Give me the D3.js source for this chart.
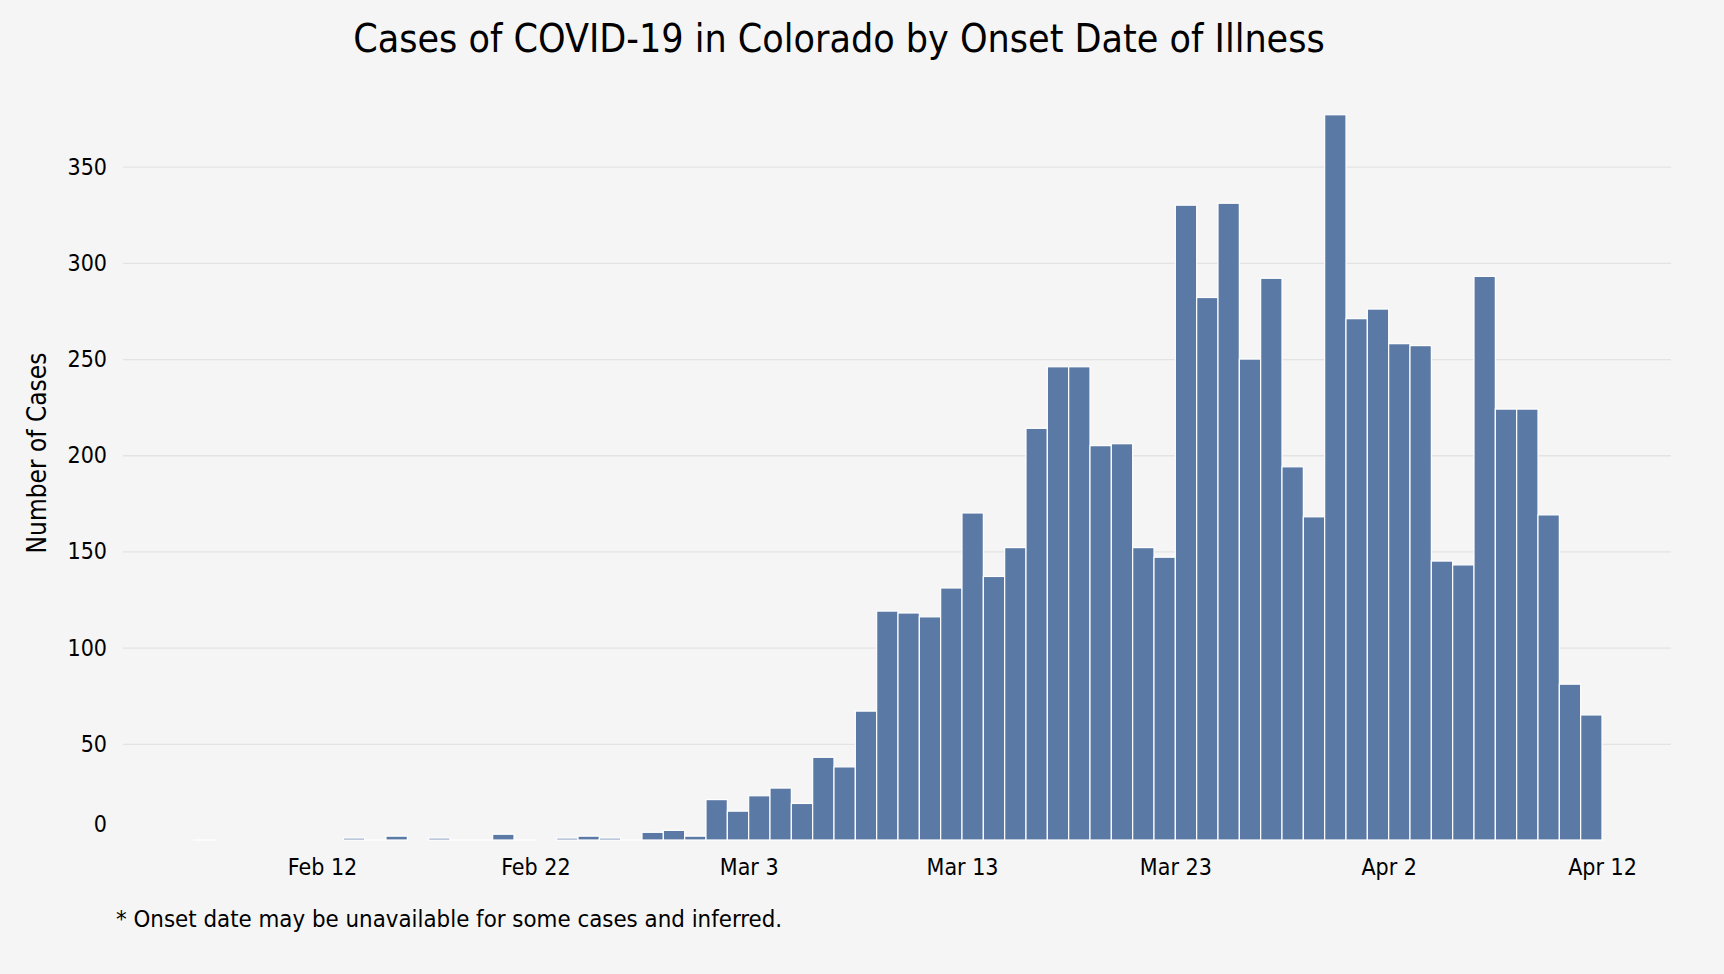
<!DOCTYPE html>
<html>
<head>
<meta charset="utf-8">
<script src="https://cdn.jsdelivr.net/npm/d3@7"></script>
<style>
    html, body { margin: 0; padding: 0; background: #f5f5f5; }
    svg { display: block; }
    svg text { font-family: "DejaVu Sans Condensed", "DejaVu Sans", sans-serif; font-stretch: condensed; }
    .grid line { stroke: #e3e3e3; stroke-width: 1.3; }
</style>
</head>
<body>
<svg class="svg-canvas"></svg>
<script>
// onset dates (days with no bar are simply not listed)
const onsetDates = [
    "2020-02-06", "2020-02-13", "2020-02-14", "2020-02-15", "2020-02-17", "2020-02-18",
    "2020-02-19", "2020-02-20", "2020-02-21", "2020-02-23", "2020-02-24", "2020-02-25",
    "2020-02-26", "2020-02-27", "2020-02-28", "2020-02-29",
    "2020-03-01", "2020-03-02", "2020-03-03", "2020-03-04", "2020-03-05", "2020-03-06",
    "2020-03-07", "2020-03-08", "2020-03-09", "2020-03-10", "2020-03-11", "2020-03-12",
    "2020-03-13", "2020-03-14", "2020-03-15", "2020-03-16", "2020-03-17", "2020-03-18",
    "2020-03-19", "2020-03-20", "2020-03-21", "2020-03-22", "2020-03-23", "2020-03-24",
    "2020-03-25", "2020-03-26", "2020-03-27", "2020-03-28", "2020-03-29", "2020-03-30",
    "2020-03-31", "2020-04-01", "2020-04-02", "2020-04-03", "2020-04-04", "2020-04-05",
    "2020-04-06", "2020-04-07", "2020-04-08", "2020-04-09", "2020-04-10", "2020-04-11"
];

const caseCounts = [
    0, 1, 0, 2, 1, 0,
    0, 3, 0, 1, 2, 1,
    0, 4, 5, 2,
    21, 15, 23, 27, 19, 43,
    38, 67, 119, 118, 116, 131,
    170, 137, 152, 214, 246, 246,
    205, 206, 152, 147, 330, 282,
    331, 250, 292, 194, 168, 377,
    271, 276, 258, 257, 145, 143,
    293, 224, 224, 169, 81, 65
];

const xTickDates = ["2020-02-12", "2020-02-22", "2020-03-03", "2020-03-13", "2020-03-23", "2020-04-02", "2020-04-12"];
const yTicks = [0, 50, 100, 150, 200, 250, 300, 350];
const xDomain = ["2020-02-06", "2020-04-12"];

const width = 1724, height = 974;
const margin = { top: 110, right: 53, bottom: 134, left: 123 };

const parse = d3.utcParse("%Y-%m-%d");
const data = onsetDates.map((d, i) => ({ date: parse(d), value: caseCounts[i] }));

function drawChart() {
    const xScale = d3.scaleUtc()
        .domain(xDomain.map(parse))
        .range([194, 1602]);

    const yScale = d3.scaleLinear()
        .domain([0, 350])
        .range([height - margin.bottom, 166.7]);

    const svg = d3.select('.svg-canvas')
        .attr("width", width)
        .attr("height", height)
        .attr("viewBox", [0, 0, width, height]);

    svg.selectAll("*").remove();

    // y grid + labels
    const yAxis = svg.append("g")
        .attr("class", "grid")
        .attr("transform", `translate(${margin.left},0)`)
        .call(d3.axisLeft(yScale)
            .tickValues(yTicks)
            .tickSizeInner(-(width - margin.right - margin.left))
            .tickSizeOuter(0)
            .tickPadding(16))
        .attr("font-family", null);
    yAxis.select(".domain").remove();
    yAxis.selectAll("text")
        .attr("fill", "#000")
        .attr("font-size", 23);
    // zero tick: no grid line, label sits a bit higher
    yAxis.selectAll(".tick").filter(d => d === 0).select("line").remove();
    yAxis.selectAll(".tick").filter(d => d === 0).select("text").attr("dy", "-0.35em");

    // x axis labels
    const xAxis = svg.append("g")
        .attr("transform", `translate(0,${height - margin.bottom})`)
        .call(d3.axisBottom(xScale)
            .tickValues(xTickDates.map(parse))
            .tickFormat(d3.utcFormat("%b %-d"))
            .tickSize(0)
            .tickPadding(18.7))
        .attr("font-family", null);
    xAxis.select(".domain").remove();
    xAxis.selectAll("text")
        .attr("fill", "#000")
        .attr("font-size", 23);

    // bars
    svg.append("g")
        .selectAll("rect")
        .data(data)
        .join("rect")
        .attr("x", d => xScale(d.date))
        .attr("width", d => xScale(d3.utcDay.offset(d.date, 1)) - xScale(d.date))
        .attr("y", d => yScale(d.value))
        .attr("height", d => Math.max(0.01, yScale(0) - yScale(d.value)))
        .attr("fill", "#5a79a5")
        .attr("stroke", "#fff")
        .attr("stroke-width", 1.2);

    // title
    svg.append("text")
        .attr("x", 839)
        .attr("y", 52)
        .attr("text-anchor", "middle")
        .attr("font-size", 39)
        .attr("fill", "#000")
        .text("Cases of COVID-19 in Colorado by Onset Date of Illness");

    // y label
    svg.append("text")
        .attr("transform", "translate(46,453) rotate(-90)")
        .attr("text-anchor", "middle")
        .attr("font-size", 26)
        .attr("fill", "#000")
        .text("Number of Cases");

    // footnote
    svg.append("text")
        .attr("x", 116)
        .attr("y", 927)
        .attr("font-size", 23.8)
        .attr("fill", "#000")
        .text("* Onset date may be unavailable for some cases and inferred.");
}

drawChart();
</script>
</body>
</html>
